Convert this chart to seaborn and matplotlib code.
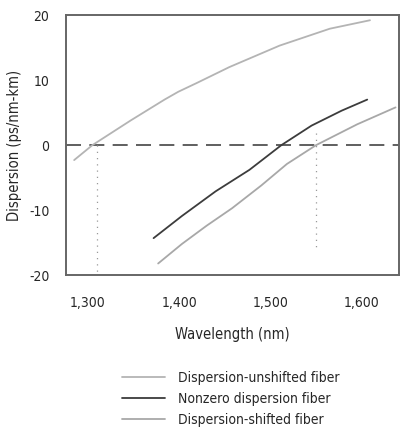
import matplotlib
matplotlib.use("Agg")
import matplotlib.pyplot as plt
import seaborn as sns
import pandas as pd
from matplotlib.ticker import FuncFormatter

# values
unshifted_nm = [1285, 1305, 1347, 1384, 1399, 1420, 1455, 1510, 1565, 1609]
unshifted_ps = [-2.3, 0.0, 3.8, 7.0, 8.2, 9.6, 12.0, 15.3, 17.9, 19.2]

nonzero_nm = [1372, 1403, 1440, 1477, 1512, 1545, 1578, 1606]
nonzero_ps = [-14.3, -10.9, -7.1, -3.8, 0.0, 3.0, 5.3, 7.0]

shifted_nm = [1377, 1403, 1430, 1458, 1490, 1518, 1550, 1595, 1637]
shifted_ps = [-18.2, -15.2, -12.4, -9.7, -6.2, -2.9, 0.0, 3.2, 5.8]

labels = ["Dispersion-unshifted fiber", "Nonzero dispersion fiber", "Dispersion-shifted fiber"]
colors = ["#b4b4b4", "#3c3c3c", "#a8a8a8"]

zero_nm = [1310, 1550]
guide_top = [0, 1.8]
guide_bottom = [-20, -16]

sns.set_style("white")
plt.rcParams["font.family"] = ["DejaVu Sans"]
plt.rcParams["font.stretch"] = "condensed"

fig = plt.figure(figsize=(4.02, 4.30), dpi=100)
ax = fig.add_axes([0.164, 0.36, 0.829, 0.605])

series = [(unshifted_nm, unshifted_ps), (nonzero_nm, nonzero_ps), (shifted_nm, shifted_ps)]
for (x, y), lab, c in zip(series, labels, colors):
    df = pd.DataFrame({"nm": x, "ps": y})
    sns.lineplot(data=df, x="nm", y="ps", ax=ax, color=c, lw=1.3, label=lab)

ax.axhline(0, color="#444444", lw=1.2, dashes=(9, 5), zorder=1)
for xv, t, b in zip(zero_nm, guide_top, guide_bottom):
    ax.plot([xv, xv], [t, b], color="#999999", lw=0.9, ls=(0, (1, 4)), zorder=1)

ax.set_xlim(1276, 1641)
ax.set_ylim(-20, 20)
ax.set_xticks([1300, 1400, 1500, 1600])
ax.set_yticks([-20, -10, 0, 10, 20])
ax.xaxis.set_major_formatter(FuncFormatter(lambda v, p: f"{int(v):,}"))
ax.yaxis.set_major_formatter(FuncFormatter(lambda v, p: f"{int(v)}"))
ax.tick_params(axis="both", length=3, width=0.8, color="#777777", labelsize=10)
ax.tick_params(axis="y", pad=9)
ax.tick_params(axis="x", pad=12)
for s in ax.spines.values():
    s.set_color("#666666")
    s.set_linewidth(1.4)

ax.set_xlabel("Wavelength (nm)", fontsize=10.5, labelpad=12)
ax.set_ylabel("Dispersion (ps/nm-km)", fontsize=10.5, labelpad=5)

handles, labs = ax.get_legend_handles_labels()
ax.get_legend().remove()
fig.legend(handles, labs, loc="upper left", bbox_to_anchor=(0.29, 0.15), frameon=False,
           fontsize=10, handlelength=3.1, handletextpad=0.95, labelspacing=0.5,
           borderaxespad=0)

fig.savefig("out.png", dpi=100)
